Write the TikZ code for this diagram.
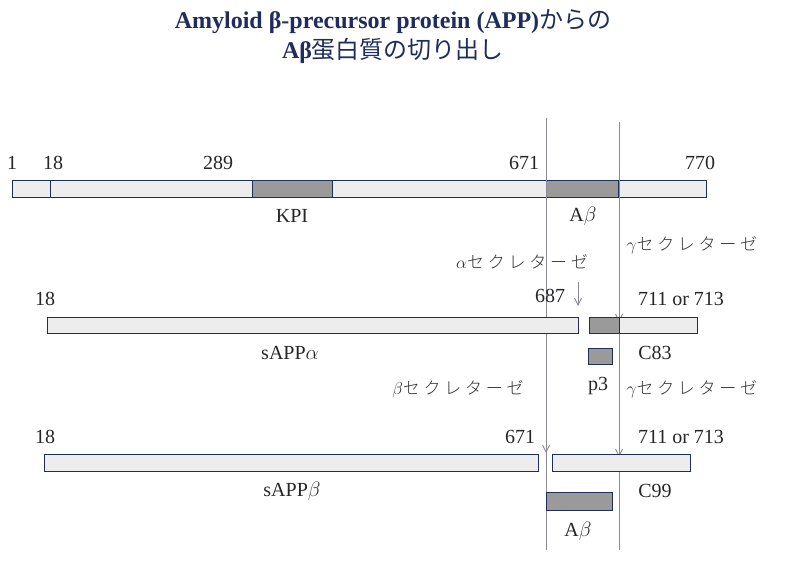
\documentclass[tikz,border=0pt]{standalone}
\usetikzlibrary{arrows.meta}
\usepackage{fontspec}
\setmainfont{Liberation Serif}
\newfontfamily\jp[LetterSpace=22]{Noto Sans CJK JP Light}
\newfontfamily\jpt{Noto Sans CJK JP}
\definecolor{navy}{HTML}{1F2D5C}
\definecolor{barfill}{HTML}{EDEDED}
\definecolor{dark}{HTML}{9A9A9A}
\definecolor{vline}{HTML}{8A8A98}
\begin{document}
\begin{tikzpicture}[x=1pt,y=-1pt,
  bar/.style={draw=navy,line width=0.9pt,fill=barfill},
  darkbar/.style={draw=navy,line width=0.9pt,fill=dark},
  lbl/.style={font=\fontsize{20}{20}\selectfont,text=black!85,inner sep=0pt},
  jlbl/.style={font=\jp\fontsize{17}{17}\selectfont,text=black!80,inner sep=0pt},
  vl/.style={draw=vline,line width=0.9pt},
  arr/.style={vl,->,>={Straight Barb[length=7pt,width=7pt]}}]
\useasboundingbox (0,0) rectangle (787,568);
\node[font=\bfseries\fontsize{24}{24}\selectfont,text=navy] (t1) at (393,22) {Amyloid β-precursor protein (APP)\jpt\mdseries からの};
\node[font=\jpt\fontsize{24}{24}\selectfont,text=navy] (t2) at (393,51) {\rmfamily\bfseries Aβ\jpt\mdseries 蛋白質の切り出し};
% row 1
\draw[bar] (12,180) rectangle (706,197);
\draw[navy,line width=0.9pt] (50,180) -- (50,197);
\draw[darkbar] (252,180) rectangle (332,197);
\draw[darkbar] (546,180) rectangle (618,197);
\node[lbl] (n1) at (12,163) {1};
\node[lbl] (n18) at (53,163) {18};
\node[lbl] (n289) at (218,163) {289};
\node[lbl] (n671) at (524,163) {671};
\node[lbl] (n770) at (700,163) {770};
\node[lbl] (kpi) at (292,216) {KPI};
\node[lbl] (ab1) at (583,216) {A$\beta$};
% vertical lines
\coordinate (va) at (546,118); \coordinate (vb) at (546,550);
\coordinate (ga) at (619,122); \coordinate (gb) at (619,550);
\draw[vl] (va) -- (vb);
\draw[vl] (ga) -- (gb);
\draw[arr] (619,300) -- (619,322);
\draw[arr] (619,435) -- (619,457);
\draw[arr] (546,430) -- (546,453);
\coordinate (aa) at (578,282); \coordinate (ab) at (578,306);
\draw[arr] (aa) -- (ab);
\node[jlbl] (asec) at (522,262) {$\alpha$セクレターゼ};
\node[jlbl] (gsec1) at (692,245) {$\gamma$セクレターゼ};
% row 2
\node[lbl] (r2a) at (45,299) {18};
\node[lbl] (r2b) at (550,296) {687};
\node[lbl] (r2c) at (681,299) {711 or 713};
\draw[bar] (47,317) rectangle (578,333);
\draw[bar] (589,317) rectangle (697,333);
\draw[darkbar] (589,317) rectangle (619,333);
\node[lbl] (sa) at (290,353) {sAPP$\alpha$};
\node[lbl] (c83) at (655,353) {C83};
\draw[darkbar] (588,348) rectangle (612,364);
\node[lbl] (p3) at (598,386) {p3};
\node[jlbl] (bsec) at (458,389) {$\beta$セクレターゼ};
\node[jlbl] (gsec2) at (692,389) {$\gamma$セクレターゼ};
% row 3
\node[lbl] (r3a) at (45,437) {18};
\node[lbl] (r3b) at (520,437) {671};
\node[lbl] (r3c) at (681,437) {711 or 713};
\draw[bar] (44,454) rectangle (538,471);
\draw[bar] (552,454) rectangle (690,471);
\node[lbl] (sb) at (292,491) {sAPP$\beta$};
\node[lbl] (c99) at (655,491) {C99};
\draw[darkbar] (546,492) rectangle (612,510);
\node[lbl] (ab2) at (578,531) {A$\beta$};
\end{tikzpicture}
\end{document}
